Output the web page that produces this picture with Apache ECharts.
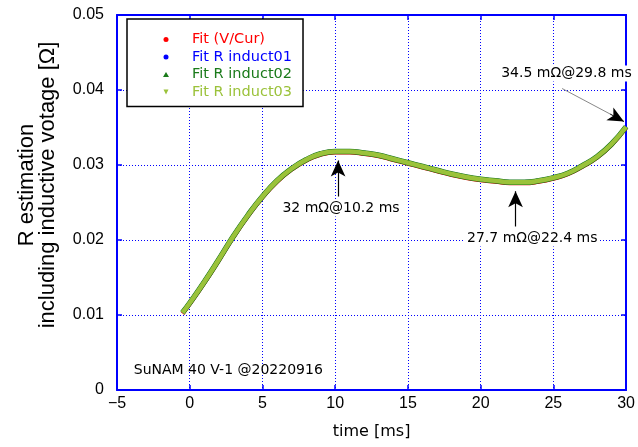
<!DOCTYPE html>
<html><head><meta charset="utf-8">
<script src="https://cdn.jsdelivr.net/npm/echarts@6/dist/echarts.min.js"></script>
<style>html,body{margin:0;padding:0;background:#fff}#c{width:638px;height:447px}</style>
</head><body><div id="c"></div>
<script>
// time [ms]
const times = [-0.5, 0, 1, 2, 3, 4, 5, 6, 7, 8, 9, 10, 11, 12, 13, 14, 15, 16, 17, 18, 19, 20, 21, 22, 23, 24, 25, 26, 27, 28, 29, 30];
// R estimation [Ohm]
const fitVCur     = [0.0102, 0.0115, 0.0143, 0.0173, 0.0204, 0.0232, 0.0257, 0.0278, 0.0294, 0.0306, 0.0314, 0.0317, 0.0317, 0.0315, 0.0312, 0.0307, 0.0302, 0.0297, 0.0292, 0.0287, 0.0283, 0.0280, 0.0278, 0.0276, 0.0276, 0.0278, 0.0282, 0.0288, 0.0298, 0.0310, 0.0327, 0.0350];
const fitInduct01 = [0.0103, 0.0116, 0.0144, 0.0174, 0.0205, 0.0233, 0.0258, 0.0279, 0.0295, 0.0307, 0.0315, 0.0318, 0.0318, 0.0316, 0.0313, 0.0308, 0.0303, 0.0298, 0.0293, 0.0288, 0.0284, 0.0281, 0.0279, 0.0277, 0.0277, 0.0279, 0.0283, 0.0289, 0.0299, 0.0311, 0.0328, 0.0351];
const fitInduct02 = [0.0103, 0.0116, 0.0144, 0.0174, 0.0205, 0.0233, 0.0258, 0.0279, 0.0295, 0.0307, 0.0315, 0.0318, 0.0318, 0.0316, 0.0313, 0.0308, 0.0303, 0.0298, 0.0293, 0.0288, 0.0284, 0.0281, 0.0279, 0.0277, 0.0277, 0.0279, 0.0283, 0.0289, 0.0299, 0.0311, 0.0328, 0.0351];
const fitInduct03 = [0.0103, 0.0116, 0.0144, 0.0174, 0.0205, 0.0233, 0.0258, 0.0279, 0.0295, 0.0307, 0.0315, 0.0318, 0.0318, 0.0316, 0.0313, 0.0308, 0.0303, 0.0298, 0.0293, 0.0288, 0.0284, 0.0281, 0.0279, 0.0277, 0.0277, 0.0279, 0.0283, 0.0289, 0.0299, 0.0311, 0.0328, 0.0351];
const seriesNames = ['Fit (V/Cur)', 'Fit R induct01', 'Fit R induct02', 'Fit R induct03'];
const xTicks = [-5, 0, 5, 10, 15, 20, 25, 30];
const yTicks = [0, 0.01, 0.02, 0.03, 0.04, 0.05];
// annotations: [x, y] of arrow tail/tip and label text
const ann1 = {tail: [10.2, 0.0258], tip: [10.2, 0.0306], label: '32 mΩ@10.2 ms', at: [10.4, 0.0242]};
const ann2 = {tail: [22.4, 0.0218], tip: [22.4, 0.0265], label: '27.7 mΩ@22.4 ms', at: [23.55, 0.0202]};
const ann3 = {tail: [25.6, 0.0402], mid: [28.9, 0.0368], tip: [29.85, 0.0358], label: '34.5 mΩ@29.8 ms', at: [25.9, 0.0422]};
const note = {label: 'SuNAM 40 V-1 @20220916', at: [2.65, 0.00257]};

const colors = ['#ff0000', '#0000ff', '#1a7a1a', '#9bc23a'];
const icons = ['circle', 'circle', 'triangle', 'path://M0,0L10,0L5,10Z'];
const widths = [4.5, 4.5, 5.5, 4.5];
const all = [fitVCur, fitInduct01, fitInduct02, fitInduct03];
const FONT = 'DejaVu Sans';

const chart = echarts.init(document.getElementById('c'), null, {renderer: 'canvas'});
const blue = '#0000ff';
const axisCommon = {
  axisLine: {show: true, onZero: false, lineStyle: {color: blue, width: 2}},
  axisTick: {show: true, inside: true, length: 5, lineStyle: {color: blue, width: 1.5}},
};
const series = all.map((arr, i) => ({
  name: seriesNames[i], type: 'line', xAxisIndex: 0, yAxisIndex: 0,
  showSymbol: false, smooth: 0.5, z: 3 + i,
  lineStyle: {color: colors[i], width: widths[i]}, itemStyle: {color: colors[i]},
  data: times.map((t, k) => [t, arr[k]])
}));
const textPt = (a) => ({coord: a.at, label: {formatter: a.label}});
series.push({
  name: 'annot', type: 'line', data: [], z: 10, silent: true,
  markLine: {
    silent: true, animation: false, symbolSize: [11, 16],
    lineStyle: {color: '#000', width: 1.2, type: 'solid'}, label: {show: false},
    data: [
      [{coord: ann1.tail, symbol: 'none'}, {coord: ann1.tip, symbol: 'arrow'}],
      [{coord: ann2.tail, symbol: 'none'}, {coord: ann2.tip, symbol: 'arrow'}],
      [{coord: ann3.tail, symbol: 'none', lineStyle: {color: '#888', width: 1}}, {coord: ann3.mid, symbol: 'none'}],
      [{coord: ann3.mid, symbol: 'none', lineStyle: {color: '#000', width: 1}}, {coord: ann3.tip, symbol: 'arrow'}]
    ]
  },
  markPoint: {
    silent: true, animation: false, symbol: 'rect', symbolSize: 0,
    label: {show: true, position: 'inside', color: '#000', fontFamily: FONT, fontSize: 14, backgroundColor: '#fff', padding: [1, 2]},
    data: [textPt(ann1), textPt(ann2), textPt(ann3), {coord: note.at, label: {formatter: note.label, backgroundColor: 'transparent'}}]
  }
});

const minus = (v) => String(v).replace('-', '\u2212');

chart.setOption({
  animation: false,
  backgroundColor: '#fff',
  grid: {left: 117, right: 9, top: 15, bottom: 57},
  legend: {
    orient: 'vertical', left: 127, top: 19,
    data: seriesNames.map((n, i) => ({name: n, icon: icons[i], textStyle: {color: colors[i]}})),
    itemWidth: 6, itemHeight: 5, itemGap: 2.5,
    backgroundColor: '#fff', borderColor: '#000', borderWidth: 1.5,
    padding: [13, 11, 7, 36],
    textStyle: {fontFamily: FONT, fontSize: 14.5, padding: [0, 0, 0, 18]}
  },
  xAxis: [
    Object.assign({type: 'value', min: xTicks[0], max: xTicks[xTicks.length - 1], interval: 5, position: 'bottom',
      name: 'time [ms]', nameLocation: 'middle', nameGap: 34,
      nameTextStyle: {fontFamily: FONT, fontSize: 16, color: '#000'},
      axisLabel: {fontFamily: 'Liberation Sans', fontSize: 16, color: '#000', margin: 6, formatter: minus},
      splitLine: {show: true, lineStyle: {color: blue, type: [1, 2], width: 1}}}, axisCommon),
    Object.assign({type: 'value', min: xTicks[0], max: xTicks[xTicks.length - 1], interval: 5, position: 'top',
      axisLabel: {show: false}, splitLine: {show: false}}, axisCommon)
  ],
  yAxis: [
    Object.assign({type: 'value', min: yTicks[0], max: yTicks[yTicks.length - 1], interval: 0.01, position: 'left',
      axisLabel: {fontFamily: 'Liberation Sans', fontSize: 16, color: '#000', margin: 13},
      splitLine: {show: true, lineStyle: {color: blue, type: [1, 2], width: 1}}}, axisCommon),
    Object.assign({type: 'value', min: yTicks[0], max: yTicks[yTicks.length - 1], interval: 0.01, position: 'right',
      axisLabel: {show: false}, splitLine: {show: false}}, axisCommon)
  ],
  graphic: [{
    type: 'text', x: 37, y: 185, rotation: Math.PI / 2,
    style: {text: 'R estimation\nincluding inductive votage [Ω]', fill: '#000', font: '22px "Liberation Sans"',
      align: 'center', verticalAlign: 'middle', lineHeight: 21}
  }],
  series: series
});
</script></body></html>
